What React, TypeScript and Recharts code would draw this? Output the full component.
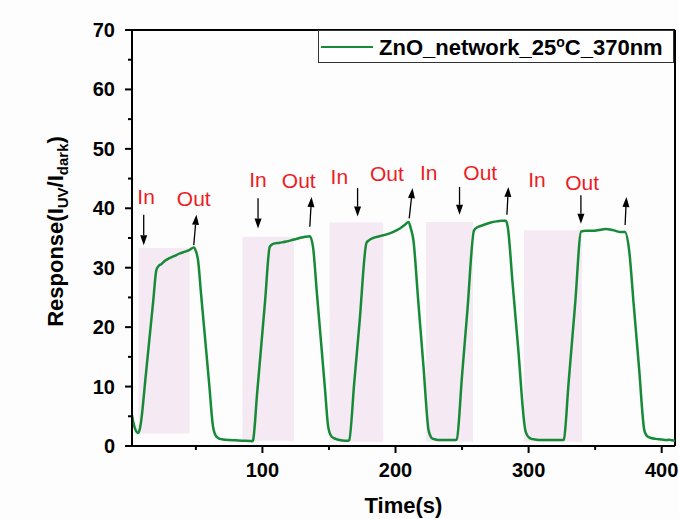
import React from 'react';
import {
  LineChart,
  Line,
  XAxis,
  YAxis,
  ReferenceArea,
  ReferenceLine,
  ReferenceDot,
  Legend,
} from 'recharts';

const FONT = "'Liberation Sans', Arial, Helvetica, sans-serif";

// Measured curve (time in s, response I_UV/I_dark)
const timeS = [
  2, 3, 4.5, 6.5, 8, 9, 12, 15, 18, 20.3, 22, 24, 27, 30, 34, 38, 42, 45.3, 48.4, 50, 51.6, 54, 57, 60, 62.9, 64, 65.4, 68, 70.4, 75, 80, 85, 90.5, 92.5,
  93, 96, 99, 102, 105.5, 108, 113, 118, 123, 128, 132, 135.6, 138, 141, 144, 147, 149.4, 150.5, 151.9, 155, 158, 162, 164.4,
  165.2, 169, 173, 178.2, 180, 183.2, 188, 193.3, 198, 203.3, 207, 209.8, 211.5, 213.4, 217, 221, 224.8, 226, 227.3, 230, 233.7, 240, 245.1,
  246, 250, 254, 259, 261.5, 265, 271.6, 276, 279.3, 283, 284.3, 288, 292, 297.5, 298.5, 300, 302, 304.6, 310, 314.7, 320, 325.9,
  326.5, 330, 335, 339.5, 343, 347.6, 352, 357.8, 362, 365.4, 369, 372.4, 375.5, 379, 383, 386.9, 388, 389.4, 392, 395.7, 400, 403.3, 405.8, 408, 410,
];
const response = [
  5.2, 4.0, 2.8, 2.2, 3.0, 4.4, 11.1, 17.8, 24.5, 29.6, 30.3, 30.6, 31.2, 31.6, 32.0, 32.4, 32.7, 33.0, 33.4, 32.8, 31.3, 25.3, 17.9, 10.4, 3.25, 2.2, 1.6, 1.2, 1.1, 1.0, 0.95, 0.9, 0.85, 0.8,
  1.0, 8.8, 16.6, 24.4, 33.5, 34.0, 34.2, 34.4, 34.7, 35.0, 35.2, 35.3, 33.5, 25.5, 17.6, 9.6, 3.25, 2.2, 1.6, 1.2, 1.0, 0.9, 0.9,
  1.0, 10.7, 20.9, 34.2, 34.6, 35.0, 35.3, 35.6, 36.0, 36.6, 37.2, 37.7, 36.6, 34.7, 24.6, 13.4, 2.7, 1.8, 1.3, 1.1, 1.0, 1.0, 1.0,
  1.1, 11.9, 22.8, 36.3, 36.8, 37.1, 37.6, 37.8, 37.9, 37.9, 36.9, 27.3, 16.9, 2.7, 2.0, 1.5, 1.2, 1.1, 1.0, 1.0, 1.0, 1.0,
  1.1, 10.5, 24.0, 36.1, 36.2, 36.2, 36.3, 36.5, 36.4, 36.2, 36.0, 36.0, 33.0, 23.7, 13.1, 2.7, 2.0, 1.6, 1.35, 1.2, 1.1, 1.0, 1.05, 0.95, 0.9,
];

// Shaded UV-on windows
const uvStart = [7, 85, 150.6, 223, 296.5];
const uvEnd = [45.3, 123.6, 190.7, 258.2, 340];
const uvLow = [2.1, 0.9, 0.7, 0.7, 0.7];
const uvHigh = [33.3, 35.2, 37.6, 37.7, 36.3];

// "In" labels and arrows
const inLabelX = [12.6, 96.7, 157.8, 225, 306.3];
const inLabelY = [41.9, 44.8, 45.3, 46.0, 44.8];
const inArrowX = [10.8, 96.7, 171.5, 248.1, 339.3];
const inArrowTop = [38.9, 41.7, 43.4, 43.6, 42.2];
const inArrowTip = [33.8, 36.6, 38.6, 38.9, 37.4];

// "Out" labels and arrows
const outLabelX = [48.4, 127.3, 193.5, 263.7, 340.2];
const outLabelY = [41.6, 44.6, 45.8, 46.1, 44.3];
const outArrowX0 = [48.4, 135.6, 210.3, 283.7, 372.5];
const outArrowY0 = [33.8, 36.9, 38.3, 38.9, 37.2];
const outArrowX1 = [50.4, 136.9, 212.8, 284.8, 373.5];
const outArrowY1 = [38.9, 41.9, 43.4, 43.6, 41.9];

const xTicks = [50, 100, 150, 200, 250, 300, 350, 400];
const yTicks = [0, 5, 10, 15, 20, 25, 30, 35, 40, 45, 50, 55, 60, 65, 70];

const seriesName = 'ZnO_network_25°C_370nm';

const data = timeS.map((t, i) => ({ t, r: response[i] }));

const XTick = (props: any) => {
  const { x, y, payload } = props;
  const major = payload.value % 100 === 0;
  return (
    <g>
      <line x1={x} y1={y} x2={x} y2={y + (major ? 7 : 4)} stroke="#000" strokeWidth={2} />
      {major && (
        <text x={x} y={y + 31} textAnchor="middle" fontSize={20} fontWeight="bold" fill="#000" fontFamily={FONT}>
          {payload.value}
        </text>
      )}
    </g>
  );
};

const YTick = (props: any) => {
  const { x, y, payload } = props;
  const major = payload.value % 10 === 0;
  return (
    <g>
      <line x1={x - (major ? 7 : 4)} y1={y} x2={x} y2={y} stroke="#000" strokeWidth={2} />
      {major && (
        <text x={x - 17} y={y + 7} textAnchor="end" fontSize={20} fontWeight="bold" fill="#000" fontFamily={FONT}>
          {payload.value}
        </text>
      )}
    </g>
  );
};

const YTitle = (props: any) => {
  const vb = props.viewBox || { x: 0, y: 30, width: 132, height: 416 };
  const cx = vb.x + 63;
  const cy = vb.y + vb.height / 2 - 6.5;
  return (
    <text
      x={cx}
      y={cy}
      transform={`rotate(-90, ${cx}, ${cy})`}
      textAnchor="middle"
      fontSize={22}
      fontWeight="bold"
      fill="#000"
      fontFamily={FONT}
    >
      Response(I
      <tspan fontSize={15} dy={5}>UV</tspan>
      <tspan dy={-5}>/I</tspan>
      <tspan fontSize={15} dy={5}>dark</tspan>
      <tspan dy={-5}>)</tspan>
    </text>
  );
};

const XTitle = (props: any) => {
  const vb = props.viewBox || { x: 132, y: 446, width: 543, height: 73 };
  return (
    <text
      x={vb.x + vb.width / 2}
      y={vb.y + 67}
      textAnchor="middle"
      fontSize={22}
      fontWeight="bold"
      fill="#000"
      fontFamily={FONT}
    >
      Time(s)
    </text>
  );
};

const ArrowShape = (p: any) => {
  const { x1, y1, x2, y2 } = p;
  const dx = x2 - x1;
  const dy = y2 - y1;
  const len = Math.hypot(dx, dy) || 1;
  const ux = dx / len;
  const uy = dy / len;
  const hl = 10;
  const hw = 3.5;
  const bx = x2 - ux * hl;
  const by = y2 - uy * hl;
  const pts = `${x2},${y2} ${bx - uy * hw},${by + ux * hw} ${bx + uy * hw},${by - ux * hw}`;
  return (
    <g>
      <line x1={x1} y1={y1} x2={bx} y2={by} stroke="#000" strokeWidth={1.3} />
      <polygon points={pts} fill="#000" />
    </g>
  );
};

const makeText = (txt: string) => (p: any) => (
  <text x={p.cx} y={p.cy + 7.5} textAnchor="middle" fontSize={21} fill="#ec1c24" fontFamily={FONT}>
    {txt}
  </text>
);

const LegendBox = (props: any) => {
  const entry = (props.payload && props.payload[0]) || { value: seriesName, color: '#178a38' };
  const parts = String(entry.value).split('°');
  return (
    <div
      style={{
        boxSizing: 'border-box',
        width: 356,
        height: 33,
        border: '1px solid #333',
        background: '#fff',
        display: 'flex',
        alignItems: 'center',
        fontFamily: FONT,
        fontWeight: 'bold',
        fontSize: 22,
        lineHeight: 1,
        color: '#000',
        whiteSpace: 'nowrap',
      }}
    >
      <div style={{ width: 52, height: 0, borderTop: `2.5px solid ${entry.color || '#178a38'}`, marginLeft: 2, marginRight: 6 }} />
      <span>
        {parts[0]}
        {parts.length > 1 && <sup style={{ fontSize: 14, verticalAlign: 8 }}>o</sup>}
        {parts[1]}
      </span>
    </div>
  );
};

export default function App() {
  return (
    <div style={{ position: 'absolute', left: 0, top: 0, width: 679, height: 519, background: '#fdfdfd' }}>
      <LineChart width={679} height={519} data={data} margin={{ top: 30, right: 4, bottom: 0, left: 0 }}>
        {uvStart.map((s, i) => (
          <ReferenceArea
            key={`uv${i}`}
            x1={s}
            x2={uvEnd[i]}
            y1={uvLow[i]}
            y2={uvHigh[i]}
            fill="#f5e9f3"
            fillOpacity={1}
            stroke="none"
          />
        ))}
        <XAxis
          dataKey="t"
          type="number"
          domain={[2, 410]}
          ticks={xTicks}
          interval={0}
          allowDataOverflow
          height={73}
          tickSize={0}
          tickMargin={0}
          tickLine={false}
          axisLine={{ stroke: '#000', strokeWidth: 2 }}
          tick={<XTick />}
          label={(p: any) => <XTitle {...p} />}
        />
        <YAxis
          type="number"
          domain={[0, 70]}
          ticks={yTicks}
          interval={0}
          allowDataOverflow
          width={132}
          tickSize={0}
          tickMargin={0}
          tickLine={false}
          axisLine={{ stroke: '#000', strokeWidth: 2 }}
          tick={<YTick />}
          label={(p: any) => <YTitle {...p} />}
        />
        <ReferenceLine y={70} stroke="#000" strokeWidth={2} />
        <ReferenceLine x={410} stroke="#000" strokeWidth={2} />
        <Line
          type="monotone"
          dataKey="r"
          name={seriesName}
          stroke="#178a38"
          strokeWidth={2.5}
          dot={false}
          isAnimationActive={false}
        />
        {inArrowX.map((x, i) => (
          <ReferenceLine
            key={`ia${i}`}
            segment={[{ x, y: inArrowTop[i] }, { x, y: inArrowTip[i] }]}
            shape={ArrowShape}
          />
        ))}
        {outArrowX0.map((x, i) => (
          <ReferenceLine
            key={`oa${i}`}
            segment={[{ x, y: outArrowY0[i] }, { x: outArrowX1[i], y: outArrowY1[i] }]}
            shape={ArrowShape}
          />
        ))}
        {inLabelX.map((x, i) => (
          <ReferenceDot key={`il${i}`} x={x} y={inLabelY[i]} r={0} shape={makeText('In')} />
        ))}
        {outLabelX.map((x, i) => (
          <ReferenceDot key={`ol${i}`} x={x} y={outLabelY[i]} r={0} shape={makeText('Out')} />
        ))}
        <Legend
          layout="vertical"
          verticalAlign="middle"
          align="center"
          content={<LegendBox />}
          wrapperStyle={{ position: 'absolute', top: 30, left: 318, width: 356, height: 33 }}
        />
      </LineChart>
    </div>
  );
}
